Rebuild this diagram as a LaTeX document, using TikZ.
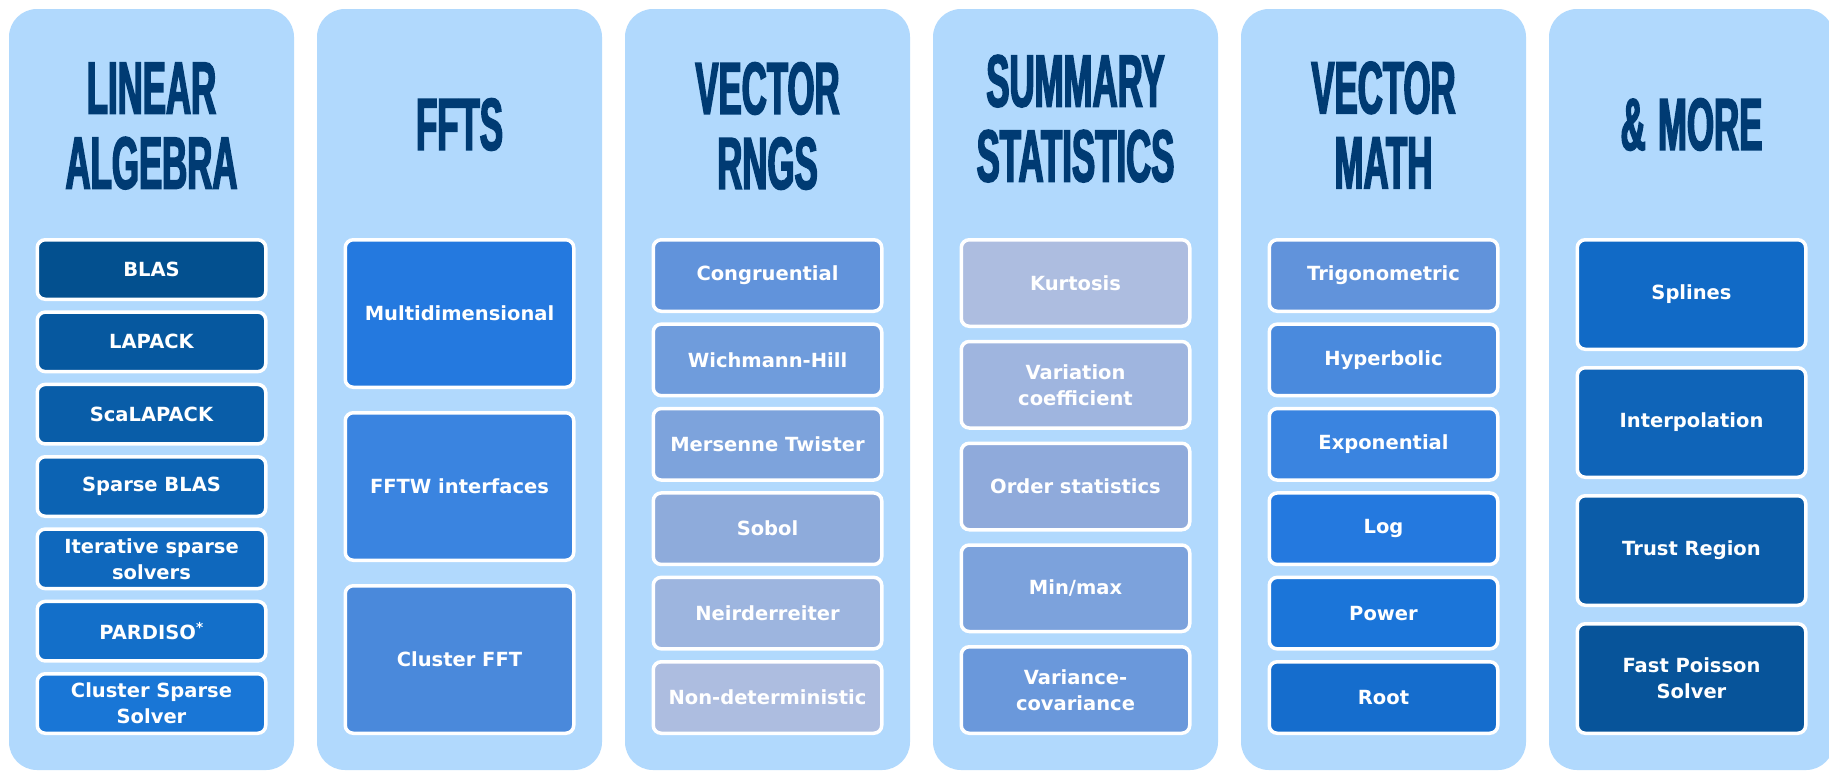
\documentclass[tikz,border=0pt]{standalone}
\usepackage{fontspec}
\newfontfamily\titlefont[FakeStretch=0.47,FakeBold=2]{Liberation Sans}
\newfontfamily\itemfont{DejaVu Sans}
\definecolor{panelbg}{HTML}{B1D9FD}
\definecolor{navy}{HTML}{003B73}
\definecolor{a1}{HTML}{03508F}\definecolor{a2}{HTML}{06589F}\definecolor{a3}{HTML}{095DA8}
\definecolor{a4}{HTML}{0C63B3}\definecolor{a5}{HTML}{0F68BD}\definecolor{a6}{HTML}{136FC9}
\definecolor{a7}{HTML}{1976D6}
\definecolor{b1}{HTML}{2479DF}\definecolor{b2}{HTML}{3A84E0}\definecolor{b3}{HTML}{4A89DB}
\definecolor{c1}{HTML}{6193DB}\definecolor{c2}{HTML}{6F9CDC}\definecolor{c3}{HTML}{7DA3DC}
\definecolor{c4}{HTML}{8EABDB}\definecolor{c5}{HTML}{9DB5DF}\definecolor{c6}{HTML}{ADBDE0}
\definecolor{d1}{HTML}{ADBDE0}\definecolor{d2}{HTML}{9FB5DF}\definecolor{d3}{HTML}{8FAADB}
\definecolor{d4}{HTML}{7CA2DC}\definecolor{d5}{HTML}{6A98DB}
\definecolor{e1}{HTML}{6193DB}\definecolor{e2}{HTML}{4A8ADD}\definecolor{e3}{HTML}{3A84E0}
\definecolor{e4}{HTML}{2479DF}\definecolor{e5}{HTML}{1B75D9}\definecolor{e6}{HTML}{156DCD}
\definecolor{f1}{HTML}{116AC6}\definecolor{f2}{HTML}{0F64B8}\definecolor{f3}{HTML}{0B5CA8}
\definecolor{f4}{HTML}{07549A}
\tikzset{
  panel/.style={fill=panelbg, rounded corners=28pt, minimum width=285pt, minimum height=761pt, inner sep=0pt},
  ttl/.style={text=navy, font=\titlefont\bfseries\fontsize{74}{75}\selectfont, align=center, inner sep=0pt},
  item/.style={draw=white, line width=3.5pt, rounded corners=8pt, text=white,
    font=\itemfont\bfseries\fontsize{19.5}{26}\selectfont, align=center, minimum width=228.5pt, inner sep=0pt},
  hA/.style={item, minimum height=59.5pt},
  hB/.style={item, minimum height=147.5pt},
  hC/.style={item, minimum height=71.5pt},
  hD/.style={item, minimum height=86.5pt},
  hF/.style={item, minimum height=109.5pt},
}
\begin{document}
\begin{tikzpicture}[x=1pt,y=-1pt]
\useasboundingbox (0,0) rectangle (1829,772);
\fill[white] (0,0) rectangle (1829,772);
\clip (0,0) rectangle (1829,772);
% panels
\node[panel] (p1) at (151.5,389.5) {};
\node[panel] (p2) at (459.5,389.5) {};
\node[panel] (p3) at (767.5,389.5) {};
\node[panel] (p4) at (1075.5,389.5) {};
\node[panel] (p5) at (1383.5,389.5) {};
\node[panel] (p6) at (1691.5,389.5) {};
% titles
\node[ttl] (t1) at (151.5,126) {LINEAR\\ALGEBRA};
\node[ttl] (t2) at (459.5,124.5) {FFTS};
\node[ttl] (t3) at (767.5,126) {VECTOR\\RNGS};
\node[ttl] (t4) at (1075.5,118.6) {SUMMARY\\STATISTICS};
\node[ttl] (t5) at (1383.5,125) {VECTOR\\MATH};
\node[ttl] (t6) at (1691.5,124.5) {\&\,MORE};
% linear algebra
\node[hA, fill=a1] (la1) at (151.5,269.5) {BLAS};
\node[hA, fill=a2] (la2) at (151.5,341.83) {LAPACK};
\node[hA, fill=a3] (la3) at (151.5,414.17) {ScaLAPACK};
\node[hA, fill=a4] (la4) at (151.5,486.5) {Sparse BLAS};
\node[hA, fill=a5] (la5) at (151.5,558.83) {Iterative sparse\\solvers};
\node[hA, fill=a6] (la6) at (151.5,631.17) {PARDISO\textsuperscript{*}};
\node[hA, fill=a7] (la7) at (151.5,703.5) {Cluster Sparse\\Solver};
% ffts
\node[hB, fill=b1] (ff1) at (459.5,313.5) {Multidimensional};
\node[hB, fill=b2] (ff2) at (459.5,486.5) {FFTW interfaces};
\node[hB, fill=b3] (ff3) at (459.5,659.5) {Cluster FFT};
% rngs
\node[hC, fill=c1] (rn1) at (767.5,275.5) {Congruential};
\node[hC, fill=c2] (rn2) at (767.5,359.9) {Wichmann-Hill};
\node[hC, fill=c3] (rn3) at (767.5,444.3) {Mersenne Twister};
\node[hC, fill=c4] (rn4) at (767.5,528.7) {Sobol};
\node[hC, fill=c5] (rn5) at (767.5,613.1) {Neirderreiter};
\node[hC, fill=c6] (rn6) at (767.5,697.5) {Non-deterministic};
% summary statistics
\node[hD, fill=d1] (ss1) at (1075.5,283) {Kurtosis};
\node[hD, fill=d2] (ss2) at (1075.5,384.75) {Variation\\coefficient};
\node[hD, fill=d3] (ss3) at (1075.5,486.5) {Order statistics};
\node[hD, fill=d4] (ss4) at (1075.5,588.25) {Min/max};
\node[hD, fill=d5] (ss5) at (1075.5,690) {Variance-\\covariance};
% vector math
\node[hC, fill=e1] (vm1) at (1383.5,275.5) {Trigonometric};
\node[hC, fill=e2] (vm2) at (1383.5,359.9) {Hyperbolic};
\node[hC, fill=e3] (vm3) at (1383.5,444.3) {Exponential};
\node[hC, fill=e4] (vm4) at (1383.5,528.7) {Log};
\node[hC, fill=e5] (vm5) at (1383.5,613.1) {Power};
\node[hC, fill=e6] (vm6) at (1383.5,697.5) {Root};
% more
\node[hF, fill=f1] (mo1) at (1691.5,294.5) {Splines};
\node[hF, fill=f2] (mo2) at (1691.5,422.5) {Interpolation};
\node[hF, fill=f3] (mo3) at (1691.5,550.5) {Trust Region};
\node[hF, fill=f4] (mo4) at (1691.5,678.5) {Fast Poisson\\Solver};
\end{tikzpicture}
\end{document}
